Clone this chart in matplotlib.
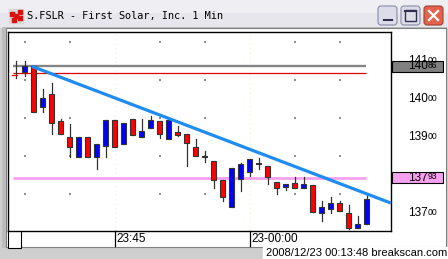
import numpy as np
import matplotlib
matplotlib.use('Agg')
import matplotlib.pyplot as plt
from matplotlib.patches import Rectangle, FancyBboxPatch

# 1 min bars, 23:34 -> 00:13
times = ['23:%02d' % m for m in range(34, 60)] + ['00:%02d' % m for m in range(0, 14)]
opens  = [14063, 14072, 14087, 13980, 14012, 13942, 13899, 13848, 13899, 13848,
          13877, 13944, 13881, 13947, 13899, 13925, 13941, 13896, 13913, 13907,
          13873, 13847, 13836, 13786, 13717, 13790, 13809, 13829, 13823, 13782,
          13768, 13779, 13767, 13773, 13701, 13711, 13726, 13701, 13661, 13670]
highs  = [14100, 14100, 14087, 14026, 14043, 13947, 13934, 13899, 13899, 13881,
          13944, 13944, 13936, 13948, 13947, 13955, 13941, 13944, 13929, 13907,
          13895, 13863, 13836, 13786, 13818, 13832, 13841, 13844, 13823, 13782,
          13776, 13794, 13794, 13773, 13731, 13741, 13732, 13720, 13692, 13747]
lows   = [14055, 14061, 13966, 13967, 13907, 13907, 13848, 13848, 13848, 13815,
          13848, 13875, 13881, 13905, 13899, 13925, 13898, 13896, 13903, 13825,
          13851, 13834, 13767, 13732, 13717, 13759, 13797, 13816, 13776, 13750,
          13761, 13767, 13767, 13703, 13680, 13701, 13704, 13657, 13660, 13670]
closes = [14063, 14088, 13967, 14002, 13936, 13907, 13873, 13899, 13848, 13881,
          13944, 13875, 13936, 13905, 13916, 13944, 13907, 13944, 13906, 13885,
          13851, 13850, 13786, 13743, 13818, 13828, 13841, 13831, 13796, 13767,
          13776, 13767, 13776, 13703, 13715, 13726, 13706, 13661, 13670, 13738]

# drawn lines
trend_bars = [1.8, 41.7]
trend_prices = [14086, 13726]
level_prices = [14086, 14068, 13793]
level_colors = ['#858585', '#e00000', '#f8a0f0']
level_widths = [1.7, 0.9, 2.0]

# axis labels
price_labels = [14100, 14000, 13900, 13700]
tick_times = ['23:45', '00:00']
tick_labels = ['23:45', '23-00:00']
grid_prices = [14150, 14050, 13950, 13850, 13750]
stamp = '2008/12/23 00:13:48 breakscan.com'
title = 'S.FSLR - First Solar, Inc. 1 Min'

W, H = 448, 259
fig = plt.figure(figsize=(W / 100, H / 100), dpi=100)
fig.patch.set_facecolor('#cfcfcf')

# window decoration, in pixels
bg = fig.add_axes([0, 0, 1, 1])
bg.set_xlim(0, W)
bg.set_ylim(H, 0)
bg.axis('off')
bg.add_patch(Rectangle((0, 0), W, 27, color='#e6e6ec'))
bg.add_patch(Rectangle((0, 0), W, 12, color='#efeff3'))
bg.add_patch(Rectangle((2, 27), 445, 221, facecolor='#bdbdbd', edgecolor='none'))
bg.add_patch(Rectangle((6, 28), 440, 219, facecolor='white', edgecolor='#808080', lw=0.8))
bg.add_patch(Rectangle((8, 229), 13, 19, facecolor='white', edgecolor='black', lw=0.8))
bg.add_patch(Rectangle((263, 247), 185, 12, color='white'))
bg.text(447, 253, stamp, ha='right', va='center', fontsize=8,
        family='Liberation Sans', color='black')
# icon
bg.add_patch(Rectangle((9, 9), 14, 14, color='#d8d8d8'))
for (ix, iy) in [(10, 12), (14, 14), (18, 10), (18, 16), (12, 18)]:
    bg.add_patch(Rectangle((ix, iy), 4, 4, color='#d81010'))
bg.text(27, 15.5, title, ha='left', va='center', fontsize=7.4,
        family='DejaVu Sans Mono', color='black')
# buttons
for bx, fc, ec in [(378, '#dcdcea', '#8a8aa8'), (401, '#dcdcea', '#8a8aa8'),
                   (424, '#e2624c', '#a04030')]:
    bg.add_patch(FancyBboxPatch((bx, 6), 19, 19, boxstyle='round,pad=0,rounding_size=3',
                                facecolor=fc, edgecolor=ec, lw=0.8))
bg.plot([384, 392], [20, 20], color='#303050', lw=1.5)
bg.add_patch(Rectangle((405, 10), 11, 11, facecolor='none', edgecolor='#303050', lw=1.0))
bg.plot([405, 416], [10.5, 10.5], color='#303050', lw=1.5)
bg.plot([429, 438], [11, 20], color='white', lw=1.6)
bg.plot([429, 438], [20, 11], color='white', lw=1.6)

# chart area
x0, x1, y0, y1 = 8, 391, 32, 231
ax = fig.add_axes([x0 / W, 1 - y1 / H, (x1 - x0) / W, (y1 - y0) / H])
ax.set_facecolor('white')
ax.set_xlim(-0.86, 41.7)
ax.set_ylim(13652.6, 14176.4)
ax.set_xticks([])
ax.set_yticks([])
for s in ax.spines.values():
    s.set_color('black')
    s.set_linewidth(1.0)

n = len(times)
bars = np.arange(n)
tick_pos = [times.index(t) for t in tick_times]

# faint grid
for t in tick_pos:
    ax.axvline(t, color='#f4f0c8', lw=0.8, ls=(0, (1, 3)), zorder=0)
grid_bars = [b for b in range(1, n, 5) if b not in tick_pos]
gx, gy = np.meshgrid(grid_bars, grid_prices)
ax.scatter(gx.ravel(), gy.ravel(), s=0.6, color='#909090', marker='s', lw=0, zorder=1)

# levels
for p, c, w in zip(level_prices, level_colors, level_widths):
    ax.plot([-0.3, 38.9], [p, p], color=c, lw=w, zorder=2, solid_capstyle='butt')

# candles
bw = 0.56
for i in bars:
    o, h, l, c = opens[i], highs[i], lows[i], closes[i]
    col = '#0000ff' if c >= o else '#ff0000'
    ax.plot([i, i], [l, h], color='#333333', lw=0.9, zorder=3)
    if o == c:
        ax.plot([i - 0.4, i + 0.1], [o, o], color='#ff0000', lw=0.9, zorder=4)
        continue
    ax.add_patch(Rectangle((i - bw / 2, min(o, c)), bw, max(abs(c - o), 2.5),
                           facecolor=col, edgecolor='#333333', lw=0.8, zorder=4))

# trend line
ax.plot(trend_bars, trend_prices, color='#1e8cf0', lw=2.3, zorder=5,
        solid_capstyle='butt', clip_on=True)

# time axis
xt = ax.get_xaxis_transform()
for t, lab in zip(tick_pos, tick_labels):
    ax.plot([t, t], [0, -0.075], transform=xt, color='black', lw=0.9, clip_on=False)
    ax.text(t + 0.2, -0.04, lab, transform=xt, ha='left', va='center', fontsize=8.5,
            family='Liberation Sans')

# price axis panel
axr = fig.add_axes([x1 / W, 1 - y1 / H, 53 / W, (y1 - y0) / H])
axr.set_xlim(0, 53)
axr.set_ylim(ax.get_ylim())
axr.axis('off')


def price_text(xpos, p, val, z):
    s = str(val)
    t = axr.text(xpos, p, s[:3], ha='left', va='center', fontsize=8.5,
                 family='Liberation Sans', zorder=z)
    axr.annotate(s[3:], xy=(1.0, 0.95), xycoords=t, ha='left', va='top',
                 fontsize=6.2, family='Liberation Sans', zorder=z)


for p in price_labels:
    price_text(17, p, p, 2)

box_colors = {level_prices[0]: '#808080', level_prices[2]: '#f8a0f0'}
for p, fc in box_colors.items():
    axr.add_patch(Rectangle((1, p - 14.5), 51, 29, facecolor=fc, edgecolor='black',
                            lw=0.8, zorder=3))
    price_text(17, p, p, 4)

fig.savefig('out.png', dpi=100, facecolor=fig.get_facecolor())
